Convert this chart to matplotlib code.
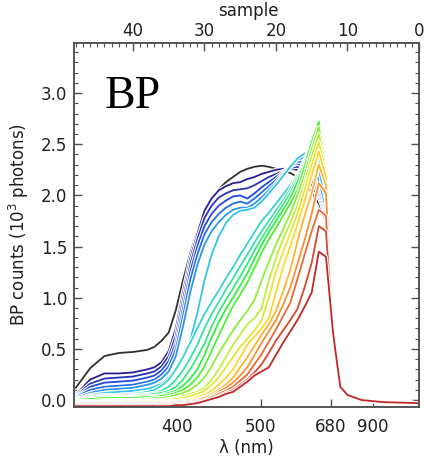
import matplotlib
matplotlib.use("Agg")
import matplotlib.pyplot as plt
import matplotlib.patheffects as pe
from matplotlib.colors import LinearSegmentedColormap
import numpy as np

# ---------------- data ----------------
samples = [48, 46, 44, 42, 40, 38, 37, 36, 35, 34, 33, 32, 31, 30, 29, 28, 27, 26,
           25, 24, 23, 22, 21, 20, 19, 18, 17, 16, 15, 14, 13, 12, 11, 10, 8, 5, 0]
edge_tail = [0.65, 0.13, 0.05, 0.0, -0.02, -0.03]

black_counts = [0.12, 0.31, 0.43, 0.46, 0.47, 0.49, 0.52, 0.58, 0.66, 0.88, 1.17, 1.43, 1.65,
                1.83, 1.96, 2.06, 2.13, 2.18, 2.23, 2.26, 2.28, 2.29, 2.28, 2.26, 2.24,
                2.22, 2.18, 2.12, 2.03, 1.92, 1.75]

c00 = [0.05, 0.20, 0.26, 0.26, 0.27, 0.30, 0.32, 0.37, 0.48, 0.70, 1.05, 1.38, 1.62, 1.85, 1.97, 2.05, 2.09, 2.12, 2.13, 2.16, 2.18, 2.21, 2.23, 2.25, 2.26, 2.26, 2.25, 2.20, 2.10, 1.98, 1.78]
c01 = [0.04, 0.16, 0.21, 0.22, 0.23, 0.26, 0.28, 0.33, 0.43, 0.63, 0.98, 1.32, 1.57, 1.78, 1.90, 1.98, 2.02, 2.05, 2.06, 2.07, 2.10, 2.14, 2.18, 2.21, 2.24, 2.27, 2.28, 2.25, 2.15, 2.02, 1.80]
c02 = [0.03, 0.13, 0.17, 0.18, 0.19, 0.22, 0.24, 0.29, 0.38, 0.56, 0.90, 1.25, 1.50, 1.70, 1.82, 1.90, 1.95, 1.99, 2.00, 1.97, 2.02, 2.08, 2.13, 2.18, 2.23, 2.28, 2.31, 2.29, 2.20, 2.06, 1.82]
c03 = [0.03, 0.10, 0.13, 0.14, 0.15, 0.18, 0.20, 0.25, 0.33, 0.50, 0.82, 1.17, 1.42, 1.62, 1.74, 1.82, 1.88, 1.92, 1.94, 1.92, 1.97, 2.03, 2.09, 2.15, 2.22, 2.28, 2.33, 2.33, 2.26, 2.10, 1.85]
c04 = [0.02, 0.07, 0.10, 0.11, 0.12, 0.15, 0.17, 0.21, 0.28, 0.43, 0.72, 1.05, 1.32, 1.52, 1.65, 1.74, 1.81, 1.86, 1.88, 1.88, 1.92, 1.98, 2.05, 2.12, 2.21, 2.29, 2.35, 2.37, 2.32, 2.15, 1.88]
c05 = [0.01, 0.05, 0.07, 0.08, 0.09, 0.11, 0.13, 0.16, 0.22, 0.30, 0.40, 0.58, 0.85, 1.17, 1.42, 1.60, 1.73, 1.81, 1.85, 1.86, 1.88, 1.94, 2.02, 2.10, 2.19, 2.28, 2.36, 2.41, 2.40, 2.25, 1.95]
c06 = [0.01, 0.04, 0.05, 0.05, 0.06, 0.08, 0.10, 0.14, 0.20, 0.30, 0.42, 0.56, 0.70, 0.84, 0.96, 1.07, 1.19, 1.30, 1.42, 1.53, 1.64, 1.75, 1.83, 1.92, 2.01, 2.10, 2.20, 2.33, 2.43, 2.38, 2.05]
c07 = [0.01, 0.03, 0.04, 0.04, 0.05, 0.06, 0.07, 0.09, 0.13, 0.20, 0.29, 0.41, 0.54, 0.70, 0.84, 0.96, 1.08, 1.19, 1.31, 1.42, 1.54, 1.65, 1.75, 1.85, 1.95, 2.06, 2.20, 2.35, 2.50, 2.50, 2.12]
c08 = [0.00, 0.02, 0.03, 0.03, 0.04, 0.05, 0.06, 0.07, 0.09, 0.13, 0.20, 0.30, 0.42, 0.55, 0.72, 0.86, 0.98, 1.09, 1.21, 1.33, 1.46, 1.58, 1.69, 1.80, 1.91, 2.02, 2.17, 2.33, 2.52, 2.62, 2.20]
c09 = [0.00, 0.02, 0.03, 0.03, 0.03, 0.04, 0.04, 0.05, 0.07, 0.09, 0.14, 0.21, 0.30, 0.44, 0.61, 0.76, 0.89, 1.00, 1.12, 1.24, 1.38, 1.52, 1.64, 1.75, 1.86, 1.97, 2.13, 2.32, 2.55, 2.72, 2.30]
c10 = [0.00, 0.01, 0.02, 0.02, 0.02, 0.03, 0.03, 0.04, 0.05, 0.07, 0.10, 0.15, 0.22, 0.33, 0.48, 0.63, 0.78, 0.92, 1.03, 1.15, 1.29, 1.44, 1.57, 1.68, 1.80, 1.92, 2.05, 2.28, 2.52, 2.72, 2.30]
c11 = [-0.01, -0.01, 0.00, 0.00, 0.00, 0.01, 0.02, 0.02, 0.03, 0.05, 0.07, 0.10, 0.15, 0.22, 0.33, 0.46, 0.57, 0.68, 0.78, 0.87, 0.98, 1.17, 1.35, 1.52, 1.67, 1.82, 2.00, 2.20, 2.45, 2.67, 2.28]
c12 = [-0.02, -0.02, -0.01, -0.01, -0.01, 0.00, 0.00, 0.00, 0.01, 0.02, 0.04, 0.06, 0.08, 0.12, 0.20, 0.30, 0.42, 0.54, 0.64, 0.74, 0.80, 0.90, 1.17, 1.39, 1.57, 1.73, 1.90, 2.12, 2.38, 2.60, 2.25]
c13 = [-0.02, -0.02, -0.02, -0.02, -0.01, -0.01, -0.01, -0.01, 0.00, 0.01, 0.02, 0.04, 0.06, 0.09, 0.15, 0.22, 0.32, 0.42, 0.52, 0.60, 0.68, 0.78, 1.00, 1.25, 1.45, 1.63, 1.82, 2.05, 2.30, 2.52, 2.22]
c14 = [-0.03, -0.03, -0.03, -0.03, -0.02, -0.02, -0.02, -0.02, -0.01, -0.01, 0.00, 0.01, 0.03, 0.05, 0.09, 0.15, 0.22, 0.30, 0.42, 0.54, 0.62, 0.70, 0.80, 1.05, 1.30, 1.50, 1.72, 1.94, 2.20, 2.43, 2.18]
c15 = [-0.03, -0.03, -0.03, -0.03, -0.03, -0.03, -0.03, -0.02, -0.02, -0.02, -0.01, 0.00, 0.01, 0.03, 0.06, 0.10, 0.15, 0.22, 0.32, 0.42, 0.53, 0.64, 0.74, 0.87, 1.06, 1.27, 1.55, 1.80, 2.02, 2.30, 2.10]
c16 = [-0.04, -0.04, -0.04, -0.04, -0.04, -0.04, -0.04, -0.03, -0.03, -0.03, -0.02, -0.01, 0.00, 0.02, 0.04, 0.08, 0.12, 0.17, 0.24, 0.32, 0.44, 0.56, 0.67, 0.78, 0.93, 1.10, 1.33, 1.56, 1.82, 2.12, 2.02]
c17 = [-0.05, -0.05, -0.05, -0.05, -0.05, -0.05, -0.05, -0.04, -0.04, -0.04, -0.03, -0.02, -0.01, 0.00, 0.03, 0.06, 0.09, 0.13, 0.19, 0.25, 0.35, 0.45, 0.57, 0.69, 0.82, 0.95, 1.18, 1.42, 1.65, 1.86, 1.80]
c18 = [-0.05, -0.05, -0.05, -0.05, -0.05, -0.05, -0.05, -0.05, -0.05, -0.04, -0.04, -0.03, -0.02, -0.01, 0.01, 0.04, 0.07, 0.10, 0.15, 0.20, 0.27, 0.35, 0.46, 0.58, 0.68, 0.78, 0.89, 1.10, 1.34, 1.70, 1.65]
c19 = [-0.06, -0.06, -0.06, -0.06, -0.06, -0.06, -0.06, -0.06, -0.06, -0.05, -0.05, -0.04, -0.03, -0.01, 0.01, 0.03, 0.06, 0.08, 0.13, 0.18, 0.24, 0.28, 0.32, 0.44, 0.56, 0.67, 0.78, 0.91, 1.05, 1.45, 1.40]
colored_spectra = [c00, c01, c02, c03, c04, c05, c06, c07, c08, c09,
                   c10, c11, c12, c13, c14, c15, c16, c17, c18, c19]

top_ticks = [40, 30, 20, 10, 0]
wavelength_labels = ["400", "500", "680", "900"]
wavelength_samples = [33.85, 22.1, 12.35, 6.4]

# ---------------- style ----------------
plt.rcParams['font.family'] = ['DejaVu Sans']
plt.rcParams['mathtext.fontset'] = 'dejavusans'
FS = 12
TXT = "#202020"
fig = plt.figure(figsize=(4.24, 4.62), dpi=100)
ax = fig.add_axes([0.1745, 0.119, 0.8135, 0.788])

cmap = LinearSegmentedColormap.from_list(
    "idlrainbow",
    [(0.00, "#2a1e96"), (0.12, "#2050e8"), (0.27, "#34c8ec"),
     (0.40, "#38e890"), (0.50, "#30f030"), (0.62, "#b8f040"),
     (0.72, "#ffe030"), (0.80, "#ffb030"), (0.90, "#e86838"), (1.00, "#c02828")])

def draw(vals, color):
    ax.plot(samples, list(vals) + edge_tail, color=color, lw=1.3,
            solid_joinstyle='round', solid_capstyle='round',
            path_effects=[pe.Stroke(linewidth=2.9, foreground='white'), pe.Normal()])

draw(black_counts, "#303030")
n = len(colored_spectra)
for i, vals in enumerate(colored_spectra):
    draw(vals, cmap(i / (n - 1)))

ax.set_xlim(48.25, 0)
ax.set_ylim(-0.068, 3.49)

frame_col = "#505050"
for sp in ax.spines.values():
    sp.set_color(frame_col)
    sp.set_linewidth(1.1)

ax.set_yticks(np.arange(0, 3.01, 0.5))
ax.set_yticks(np.arange(0, 3.45, 0.1), minor=True)
ax.yaxis.set_major_formatter(matplotlib.ticker.FormatStrFormatter('%.1f'))
ax.tick_params(axis='y', which='both', direction='in', left=True, right=True,
               color=frame_col, labelsize=FS, labelcolor=TXT, pad=5)
ax.tick_params(axis='y', which='major', length=6, width=1)
ax.tick_params(axis='y', which='minor', length=3, width=0.8)

ax.set_xticks(wavelength_samples)
ax.set_xticklabels(wavelength_labels)
ax.tick_params(axis='x', which='both', direction='in', top=False, bottom=True,
               color=frame_col, labelsize=FS, labelcolor=TXT, length=6, width=1, pad=8)

ax2 = ax.twiny()
ax2.set_xlim(ax.get_xlim())
ax2.set_xticks(top_ticks)
ax2.set_xticks(np.arange(0, 48.1, 1), minor=True)
ax2.tick_params(axis='x', which='both', direction='in', color=frame_col,
                labelsize=FS, labelcolor=TXT, pad=2)
ax2.tick_params(axis='x', which='major', length=6, width=1)
ax2.tick_params(axis='x', which='minor', length=3, width=0.8)
for sp in ax2.spines.values():
    sp.set_color(frame_col)
    sp.set_linewidth(1.1)
fig.text(0.585, 0.976, "sample", fontsize=FS, color=TXT, ha='center', va='center')

ax.set_xlabel("λ (nm)", fontsize=FS, color=TXT, labelpad=2)
ax.set_ylabel("BP counts (10$^3$ photons)", fontsize=FS, color=TXT, labelpad=7)

ax.text(0.088, 0.821, "BP", transform=ax.transAxes, fontsize=33,
        family="Liberation Serif", color="black", va="baseline")

fig.savefig("out.png", dpi=100)
